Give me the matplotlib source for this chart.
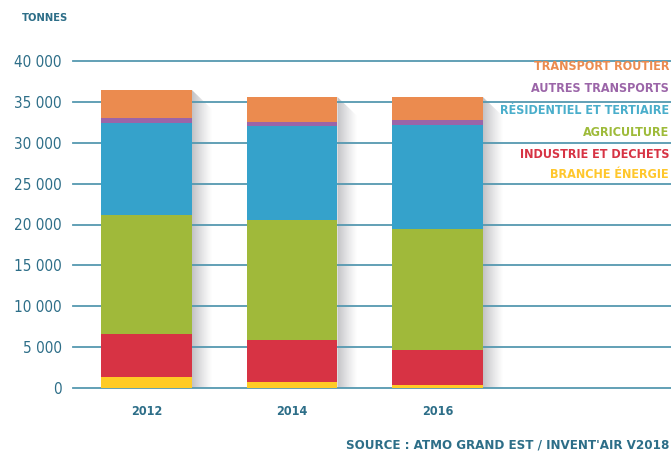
import numpy as np
import matplotlib
matplotlib.use("Agg")
import matplotlib.pyplot as plt
from matplotlib import font_manager as fm
from matplotlib.patches import Polygon

# condensed face if available, else DejaVu condensed
try:
    fm.findfont("Liberation Sans Narrow", fallback_to_default=False)
    FONT = ["Liberation Sans Narrow", "DejaVu Sans"]
    STRETCH = "normal"
except Exception:
    FONT = ["DejaVu Sans"]
    STRETCH = "condensed"
plt.rcParams["font.family"] = FONT

years = ["2012", "2014", "2016"]
sectors = ["BRANCHE ÉNERGIE", "INDUSTRIE ET DECHETS", "AGRICULTURE",
           "RÉSIDENTIEL ET TERTIAIRE", "AUTRES TRANSPORTS", "TRANSPORT ROUTIER"]
energie = [1350, 730, 330]
industrie = [5250, 5140, 4320]
agriculture = [14550, 14680, 14800]
residentiel = [11250, 11450, 12720]
autres = [600, 500, 610]
routier = [3450, 3100, 2810]
series = [energie, industrie, agriculture, residentiel, autres, routier]
colors = ["#FFCB25", "#D73344", "#A0B93A", "#35A2CB", "#9B65A8", "#EB8B4F"]
text_colors = ["#FFC72C", "#D73344", "#9EBB3A", "#4AAECB", "#9B65A8", "#EB8B4F"]
yticks = [0, 5000, 10000, 15000, 20000, 25000, 30000, 35000, 40000]

teal = "#2D6E88"
grid = "#5598B0"

fig = plt.figure(figsize=(6.71, 4.55), dpi=100)
ax = fig.add_axes([73 / 671, 67 / 455, 598 / 671, 327 / 455])
ax.set_xlim(-0.505, 3.605)
ax.set_ylim(0, 40000)
for s in ax.spines.values():
    s.set_visible(False)

# grid sits above the bar shadows
for t in yticks:
    ax.axhline(t, color=grid, lw=1.3, zorder=1.5, clip_on=False)

x = np.arange(len(years))
width = 0.625
totals = np.sum(series, axis=0)

# drop shadow on the right of each bar
grad = np.linspace(0.5, 0.0, 64).reshape(1, -1) ** 1.2
shadow_cmap = matplotlib.colors.LinearSegmentedColormap.from_list(
    "sh", [(0.45, 0.45, 0.48, 0.0), (0.45, 0.45, 0.48, 1.0)])
dx, dy = 0.14, 2400
for xi, tot in zip(x, totals):
    r = xi + width / 2
    im = ax.imshow(grad, cmap=shadow_cmap, vmin=0, vmax=1, aspect="auto",
                   extent=[r, r + dx, 0, tot], zorder=1, interpolation="bilinear")
    poly = Polygon([(r, tot), (r + dx, tot - dy), (r + dx, 0), (r, 0)],
                   closed=True, transform=ax.transData, facecolor="none", edgecolor="none")
    ax.add_patch(poly)
    im.set_clip_path(poly)

bottom = np.zeros(len(years))
for vals, c in zip(series, colors):
    ax.bar(x, vals, width, bottom=bottom, color=c, zorder=2, linewidth=0)
    bottom += np.array(vals)

ax.set_xticks(x)
ax.set_xticklabels(years, fontsize=9, fontweight="bold", color=teal, fontstretch=STRETCH)
ax.tick_params(axis="x", length=0, pad=12)
ax.set_yticks(yticks)
ax.set_yticklabels([f"{t:,}".replace(",", " ") for t in yticks], fontsize=11,
                   color=teal, fontstretch=STRETCH)
ax.tick_params(axis="y", length=0, pad=8)

fig.text(22 / 671, 1 - 18 / 455, "TONNES", fontsize=8, fontweight="bold", color=teal,
         va="center", ha="left", fontstretch=STRETCH)

# legend as right-aligned coloured labels
leg_y = [67, 89, 110, 132, 154, 175]
for name, c, yy in zip(sectors[::-1], text_colors[::-1], leg_y):
    fig.text(669 / 671, 1 - yy / 455, name, fontsize=9, fontweight="bold", color=c,
             ha="right", va="center", fontstretch=STRETCH)

fig.text(669 / 671, 1 - 445 / 455, "SOURCE : ATMO GRAND EST / INVENT'AIR V2018", fontsize=9.5,
         fontweight="bold", color=teal, ha="right", va="center", fontstretch=STRETCH)

fig.savefig("out.png", dpi=100)
